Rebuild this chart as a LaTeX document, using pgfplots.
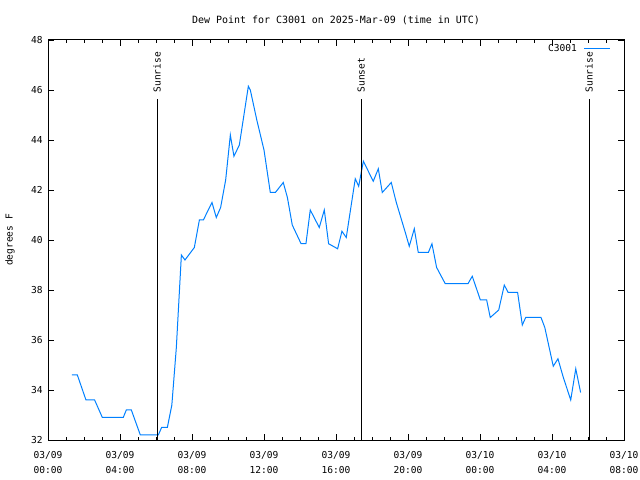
\documentclass[border=0pt]{standalone}
\usepackage{fontspec}
\setmainfont{DejaVu Sans Mono}
\usepackage{pgfplots}
\pgfplotsset{compat=1.18}
\definecolor{dp}{RGB}{0,128,255}
\begin{document}
\fontsize{9.6}{11}\selectfont
\begin{tikzpicture}
\useasboundingbox (0,0) rectangle (640bp,480bp);
\begin{axis}[
  at={(48bp,40bp)}, anchor=south west,
  scale only axis, width=576bp, height=400bp,
  xmin=0, xmax=32, ymin=32, ymax=48,
  xtick={0,4,...,32},
  minor x tick num=3,
  xticklabels={{03/09\\00:00},{03/09\\04:00},{03/09\\08:00},{03/09\\12:00},{03/09\\16:00},{03/09\\20:00},{03/10\\00:00},{03/10\\04:00},{03/10\\08:00}},
  xticklabel style={align=center, font=\fontsize{9.6}{15}\selectfont, yshift=-8bp},
  ytick={32,34,...,48},
  yticklabel style={/pgf/number format/assume math mode=true, xshift=-2bp},
  tick align=inside,
  major tick length=6bp, minor tick length=3bp,
  tick style={black, line width=0.8bp},
  axis line style={line width=1bp},
  title={Dew Point for C3001 on 2025-Mar-09 (time in UTC)},
  title style={at={(0.5,1)}, anchor=center, yshift=14bp, font=\fontsize{10}{12}\selectfont},
  ylabel={degrees F},
  ylabel style={at={(rel axis cs:0,0.5)}, anchor=center, yshift=38bp},
  legend style={at={(1,1)}, anchor=north east, draw=none, fill=none, xshift=-13bp, yshift=-2bp, inner sep=0pt, column sep=5bp},
  legend plot pos=right, legend cell align=right,
  legend image code/.code={\draw[#1] (0,0) -- (26bp,0);},
]
\addplot[dp, line width=1bp] coordinates {
(1.33,34.6) (1.63,34.6) (2.11,33.6) (2.59,33.6) (3.02,32.9) (4.18,32.9)
(4.35,33.2) (4.63,33.2) (5.13,32.2) (6.13,32.2) (6.31,32.5) (6.63,32.5)
(6.88,33.4) (7.13,35.7) (7.41,39.4) (7.61,39.2) (8.13,39.7) (8.41,40.8)
(8.63,40.8) (9.11,41.5) (9.35,40.9) (9.59,41.3) (9.87,42.4) (10.13,44.2)
(10.33,43.35) (10.63,43.8) (11.13,46.15) (11.24,46.0) (11.6,44.8) (12.0,43.6)
(12.35,41.9) (12.63,41.9) (13.07,42.3) (13.3,41.7) (13.57,40.6) (14.06,39.85)
(14.33,39.85) (14.57,41.2) (15.07,40.5) (15.35,41.2) (15.59,39.85) (16.09,39.65)
(16.33,40.35) (16.57,40.1) (17.07,42.45) (17.26,42.15) (17.52,43.15) (18.07,42.35)
(18.35,42.85) (18.57,41.9) (19.07,42.3) (19.35,41.5) (19.6,40.9) (19.85,40.3)
(20.07,39.75) (20.35,40.45) (20.57,39.5) (21.13,39.5) (21.33,39.85) (21.59,38.9)
(22.07,38.25) (23.33,38.25) (23.57,38.55) (24.02,37.6) (24.37,37.6) (24.57,36.9)
(25.04,37.2) (25.35,38.2) (25.56,37.9) (26.09,37.9) (26.35,36.6) (26.54,36.9)
(27.39,36.9) (27.6,36.5) (28.07,34.95) (28.33,35.25) (28.63,34.5) (29.04,33.6)
(29.32,34.85) (29.59,33.9)
};
\addlegendentry{C3001}
\addplot[black, line width=1bp, forget plot] coordinates {(6.06,32) (6.06,45.63)};
\addplot[black, line width=1bp, forget plot] coordinates {(17.39,32) (17.39,45.63)};
\addplot[black, line width=1bp, forget plot] coordinates {(30.06,32) (30.06,45.63)};
\node[rotate=90, anchor=west, inner sep=0pt] at (axis cs:6.06,45.9) {Sunrise};
\node[rotate=90, anchor=west, inner sep=0pt] at (axis cs:17.39,45.9) {Sunset};
\node[rotate=90, anchor=west, inner sep=0pt] at (axis cs:30.06,45.9) {Sunrise};
\end{axis}
\end{tikzpicture}
\end{document}
